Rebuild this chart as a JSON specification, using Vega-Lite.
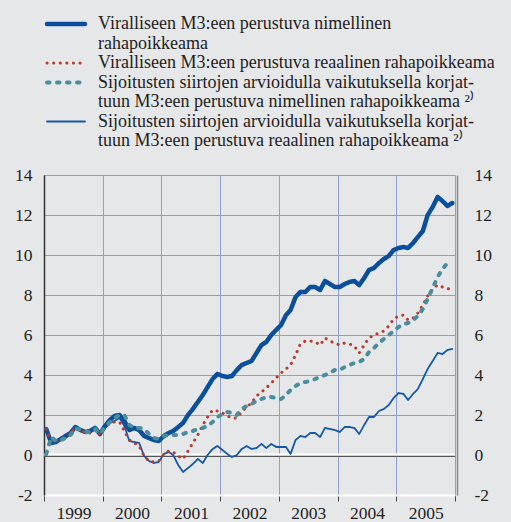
{
  "$schema": "https://vega.github.io/schema/vega-lite/v6.json",
  "width": 411,
  "height": 320,
  "autosize": {"type": "none"},
  "padding": {"left": 44, "top": 175, "right": 56, "bottom": 27},
  "background": "#e6e7e9",
  "config": {
    "view": {"stroke": null},
    "font": "Liberation Serif, Times New Roman, Times, serif",
    "axis": {"labelFont": "Liberation Serif, Times New Roman, Times, serif", "labelFontSize": 17.5, "labelColor": "#222222", "title": null},
    "legend": {"labelFont": "Liberation Serif, Times New Roman, Times, serif"}
  },
  "layer": [
    {
      "data": {"values": [{}]},
      "mark": {"type": "rule", "color": "#555555", "strokeWidth": 1, "yOffset": 1.5},
      "encoding": {
        "y": {
          "datum": 0,
          "type": "quantitative",
          "scale": {"domain": [-2, 14], "nice": false, "zero": false},
          "axis": {
            "orient": "right",
            "values": [-2, 0, 2, 4, 6, 8, 10, 12, 14],
            "labelExpr": "'' + datum.value",
            "grid": false,
            "domainColor": "#8a8a8a",
            "domainWidth": 1.5,
            "ticks": false,
            "labelPadding": 17,
            "offset": 2,
            "labelAlign": "left"
          }
        }
      }
    },
    {
      "data": {"values": [{}]},
      "mark": {"type": "rule", "color": "#ffffff", "strokeWidth": 2, "yOffset": -0.5},
      "encoding": {"y": {"datum": 0, "type": "quantitative", "axis": null}}
    },
    {
      "data": {"values": [
        {"date":"1999-01-15","a":1.3,"b":1.3,"c":0.05,"d":1.2},
        {"date":"1999-02-15","a":0.6,"b":0.65,"c":0.9,"d":0.6},
        {"date":"1999-03-15","a":0.65,"b":0.7,"c":0.7,"d":0.65},
        {"date":"1999-04-15","a":0.8,"b":0.8,"c":0.75,"d":0.8},
        {"date":"1999-05-15","a":0.95,"b":0.9,"c":0.85,"d":0.85},
        {"date":"1999-06-15","a":1.1,"b":1.05,"c":1.0,"d":1.05},
        {"date":"1999-07-15","a":1.4,"b":1.4,"c":1.35,"d":1.4},
        {"date":"1999-08-15","a":1.25,"b":1.2,"c":1.25,"d":1.2},
        {"date":"1999-09-15","a":1.15,"b":1.15,"c":1.15,"d":1.15},
        {"date":"1999-10-15","a":1.2,"b":1.1,"c":1.15,"d":1.15},
        {"date":"1999-11-15","a":1.35,"b":1.3,"c":1.3,"d":1.3},
        {"date":"1999-12-15","a":1.05,"b":1.05,"c":1.05,"d":1.05},
        {"date":"2000-01-15","a":1.45,"b":1.35,"c":1.4,"d":1.35},
        {"date":"2000-02-15","a":1.75,"b":1.6,"c":1.65,"d":1.6},
        {"date":"2000-03-15","a":1.95,"b":1.65,"c":1.85,"d":1.7},
        {"date":"2000-04-15","a":2.0,"b":1.65,"c":2.0,"d":1.85},
        {"date":"2000-05-15","a":1.7,"b":1.2,"c":2.0,"d":1.45},
        {"date":"2000-06-15","a":1.25,"b":0.75,"c":1.5,"d":0.7},
        {"date":"2000-07-15","a":1.35,"b":0.6,"c":1.35,"d":0.65},
        {"date":"2000-08-15","a":1.25,"b":0.45,"c":1.35,"d":0.6},
        {"date":"2000-09-15","a":0.95,"b":-0.05,"c":1.3,"d":-0.05},
        {"date":"2000-10-15","a":0.85,"b":-0.3,"c":1.05,"d":-0.3},
        {"date":"2000-11-15","a":0.75,"b":-0.35,"c":0.85,"d":-0.4},
        {"date":"2000-12-15","a":0.7,"b":-0.3,"c":0.8,"d":-0.35},
        {"date":"2001-01-15","a":0.95,"b":0.05,"c":0.95,"d":0.05},
        {"date":"2001-02-15","a":1.1,"b":0.2,"c":1.0,"d":0.15},
        {"date":"2001-03-15","a":1.2,"b":0.15,"c":1.0,"d":0.0},
        {"date":"2001-04-15","a":1.4,"b":-0.05,"c":1.0,"d":-0.5},
        {"date":"2001-05-15","a":1.6,"b":-0.2,"c":1.05,"d":-0.85},
        {"date":"2001-06-15","a":2.0,"b":0.2,"c":1.15,"d":-0.65},
        {"date":"2001-07-15","a":2.3,"b":0.6,"c":1.2,"d":-0.45},
        {"date":"2001-08-15","a":2.65,"b":1.0,"c":1.3,"d":-0.2},
        {"date":"2001-09-15","a":3.0,"b":1.5,"c":1.35,"d":-0.4},
        {"date":"2001-10-15","a":3.4,"b":1.9,"c":1.45,"d":0.0},
        {"date":"2001-11-15","a":3.8,"b":2.25,"c":1.65,"d":0.3},
        {"date":"2001-12-15","a":4.05,"b":2.2,"c":1.9,"d":0.45},
        {"date":"2002-01-15","a":3.95,"b":2.1,"c":2.05,"d":0.25},
        {"date":"2002-02-15","a":3.9,"b":1.95,"c":2.15,"d":0.05},
        {"date":"2002-03-15","a":3.95,"b":1.85,"c":2.1,"d":-0.1},
        {"date":"2002-04-15","a":4.25,"b":1.85,"c":2.0,"d":0.0},
        {"date":"2002-05-15","a":4.5,"b":2.15,"c":2.3,"d":0.3},
        {"date":"2002-06-15","a":4.6,"b":2.4,"c":2.45,"d":0.45},
        {"date":"2002-07-15","a":4.7,"b":2.6,"c":2.55,"d":0.3},
        {"date":"2002-08-15","a":5.1,"b":2.95,"c":2.7,"d":0.35},
        {"date":"2002-09-15","a":5.5,"b":3.15,"c":2.8,"d":0.55},
        {"date":"2002-10-15","a":5.65,"b":3.35,"c":2.9,"d":0.35},
        {"date":"2002-11-15","a":6.0,"b":3.6,"c":2.9,"d":0.55},
        {"date":"2002-12-15","a":6.25,"b":3.85,"c":2.85,"d":0.4},
        {"date":"2003-01-15","a":6.5,"b":4.1,"c":2.8,"d":0.4},
        {"date":"2003-02-15","a":7.0,"b":4.3,"c":3.0,"d":0.4},
        {"date":"2003-03-15","a":7.25,"b":4.5,"c":3.25,"d":0.05},
        {"date":"2003-04-15","a":7.9,"b":5.0,"c":3.45,"d":0.75},
        {"date":"2003-05-15","a":8.15,"b":5.55,"c":3.6,"d":0.95},
        {"date":"2003-06-15","a":8.15,"b":5.7,"c":3.65,"d":0.9},
        {"date":"2003-07-15","a":8.4,"b":5.7,"c":3.7,"d":1.1},
        {"date":"2003-08-15","a":8.4,"b":5.65,"c":3.8,"d":1.1},
        {"date":"2003-09-15","a":8.25,"b":5.5,"c":3.9,"d":0.9},
        {"date":"2003-10-15","a":8.7,"b":5.85,"c":4.0,"d":1.35},
        {"date":"2003-11-15","a":8.55,"b":5.7,"c":4.1,"d":1.3},
        {"date":"2003-12-15","a":8.4,"b":5.6,"c":4.25,"d":1.25},
        {"date":"2004-01-15","a":8.4,"b":5.5,"c":4.25,"d":1.15},
        {"date":"2004-02-15","a":8.55,"b":5.6,"c":4.4,"d":1.4},
        {"date":"2004-03-15","a":8.65,"b":5.55,"c":4.5,"d":1.4},
        {"date":"2004-04-15","a":8.7,"b":5.45,"c":4.6,"d":1.35},
        {"date":"2004-05-15","a":8.5,"b":5.1,"c":4.65,"d":1.05},
        {"date":"2004-06-15","a":8.85,"b":5.5,"c":4.8,"d":1.5},
        {"date":"2004-07-15","a":9.25,"b":5.85,"c":5.15,"d":1.9},
        {"date":"2004-08-15","a":9.35,"b":6.0,"c":5.35,"d":1.9},
        {"date":"2004-09-15","a":9.6,"b":6.1,"c":5.6,"d":2.2},
        {"date":"2004-10-15","a":9.8,"b":6.2,"c":5.8,"d":2.3},
        {"date":"2004-11-15","a":9.95,"b":6.45,"c":6.0,"d":2.5},
        {"date":"2004-12-15","a":10.25,"b":6.8,"c":6.2,"d":2.85},
        {"date":"2005-01-15","a":10.35,"b":6.95,"c":6.4,"d":3.1},
        {"date":"2005-02-15","a":10.4,"b":7.0,"c":6.55,"d":3.05},
        {"date":"2005-03-15","a":10.35,"b":6.75,"c":6.6,"d":2.75},
        {"date":"2005-04-15","a":10.6,"b":6.85,"c":6.75,"d":3.05},
        {"date":"2005-05-15","a":10.9,"b":7.1,"c":6.95,"d":3.3},
        {"date":"2005-06-15","a":11.2,"b":7.5,"c":7.3,"d":3.8},
        {"date":"2005-07-15","a":12.0,"b":7.95,"c":7.8,"d":4.3},
        {"date":"2005-08-15","a":12.4,"b":8.3,"c":8.35,"d":4.7},
        {"date":"2005-09-15","a":12.9,"b":8.5,"c":8.9,"d":5.1},
        {"date":"2005-10-15","a":12.7,"b":8.4,"c":9.3,"d":5.05},
        {"date":"2005-11-15","a":12.45,"b":8.3,"c":9.6,"d":5.25},
        {"date":"2005-12-15","a":12.6,"b":8.35,"c":9.6,"d":5.3}
      ]},
      "transform": [{"fold": ["d", "a", "b", "c"], "as": ["series", "value"]}],
      "mark": {"type": "line", "strokeCap": "round", "strokeJoin": "round"},
      "encoding": {
        "x": {
          "field": "date",
          "type": "temporal",
          "scale": {
            "type": "utc",
            "domain": [
              {"year": 1999, "month": 1, "date": 1, "utc": true},
              {"year": 2006, "month": 1, "date": 1, "utc": true}
            ]
          },
          "axis": {
            "values": [
              {"year": 1999, "month": 1, "date": 1, "utc": true},
              {"year": 2000, "month": 1, "date": 1, "utc": true},
              {"year": 2001, "month": 1, "date": 1, "utc": true},
              {"year": 2002, "month": 1, "date": 1, "utc": true},
              {"year": 2003, "month": 1, "date": 1, "utc": true},
              {"year": 2004, "month": 1, "date": 1, "utc": true},
              {"year": 2005, "month": 1, "date": 1, "utc": true},
              {"year": 2006, "month": 1, "date": 1, "utc": true}
            ],
            "labelExpr": "utcyear(datum.value) > 2005 ? '' : '' + utcyear(datum.value)",
            "labelOffset": 29.4,
            "labelAlign": "center",
            "labelOverlap": false,
            "labelFlush": false,
            "labelBound": false,
            "grid": true,
            "gridColor": "#8d9ed4",
            "gridWidth": 1,
            "domainColor": "#ffffff",
            "domainWidth": 2,
            "tickColor": "#444444",
            "tickSize": 6,
            "tickWidth": 1,
            "labelPadding": 3
          }
        },
        "y": {
          "field": "value",
          "type": "quantitative",
          "axis": {
            "orient": "left",
            "values": [-2, 0, 2, 4, 6, 8, 10, 12, 14],
            "labelExpr": "'' + datum.value",
            "grid": true,
            "gridColor": "#8d9ed4",
            "gridWidth": 1,
            "domainColor": "#333333",
            "domainWidth": 1.5,
            "ticks": false,
            "labelPadding": 12
          }
        },
        "color": {
          "field": "series",
          "type": "nominal",
          "scale": {
            "domain": ["a", "a2", "b", "c", "c2", "d", "d2"],
            "range": ["#0b4f9c", "rgba(0,0,0,0)", "#b73a30", "#4a8d9c", "rgba(0,0,0,0)", "#1558a8", "rgba(0,0,0,0)"]
          },
          "legend": {
            "orient": "none",
            "legendX": 0,
            "legendY": -160,
            "direction": "vertical",
            "title": null,
            "symbolType": "M-3.8,0H3.8",
            "symbolSize": 100,
            "symbolOffset": 13,
            "labelFont": "Liberation Serif, Times New Roman, Times, serif",
            "labelFontSize": 18,
            "labelColor": "#222222",
            "labelOffset": 23,
            "labelLimit": 500,
            "labelBaseline": "middle",
            "rowPadding": 1.5,
            "labelExpr": "datum.value == 'a' ? 'Viralliseen M3:een perustuva nimellinen' : datum.value == 'a2' ? 'rahapoikkeama' : datum.value == 'b' ? 'Viralliseen M3:een perustuva reaalinen rahapoikkeama' : datum.value == 'c' || datum.value == 'd' ? 'Sijoitusten siirtojen arvioidulla vaikutuksella korjat-' : datum.value == 'c2' ? 'tuun M3:een perustuva nimellinen rahapoikkeama ²⁾' : 'tuun M3:een perustuva reaalinen rahapoikkeama ²⁾'",
            "encode": {"symbols": {"update": {"strokeCap": {"value": "round"}}}}
          }
        },
        "strokeDash": {
          "field": "series",
          "type": "nominal",
          "scale": {
            "domain": ["a", "a2", "b", "c", "c2", "d", "d2"],
            "range": [[1, 0], [1, 0], [0.1, 6.5], [2.5, 7.5], [1, 0], [1, 0], [1, 0]]
          }
        },
        "strokeWidth": {
          "field": "series",
          "type": "nominal",
          "scale": {
            "type": "ordinal",
            "domain": ["a", "a2", "b", "c", "c2", "d", "d2"],
            "range": [4.5, 0, 3, 4, 0, 1.8, 0]
          }
        }
      }
    }
  ],
  "resolve": {"axis": {"y": "independent"}}
}
